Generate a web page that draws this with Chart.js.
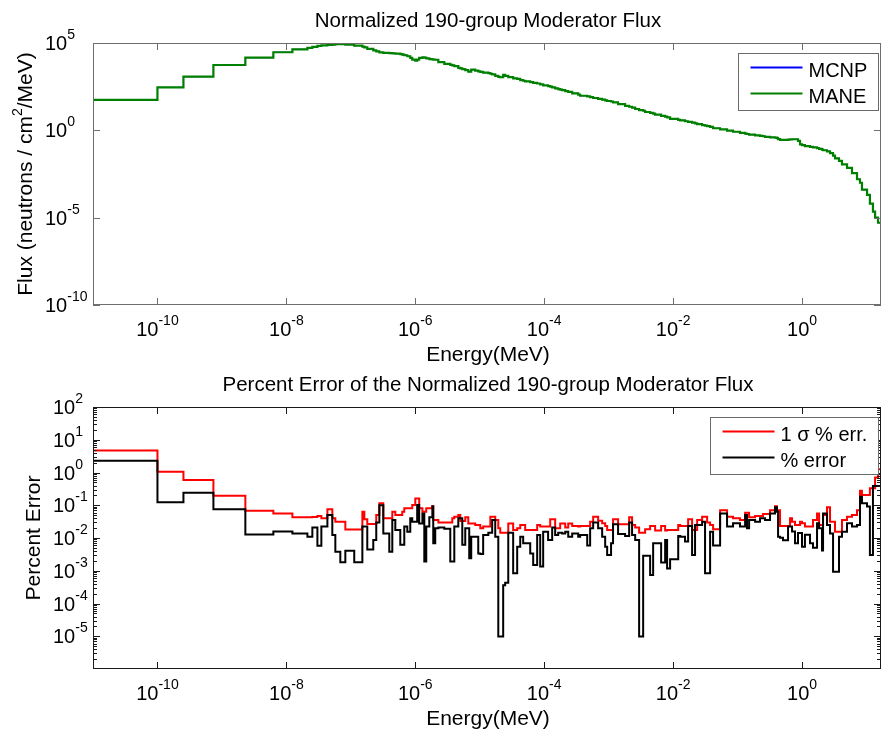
<!DOCTYPE html>
<html>
<head>
<meta charset="utf-8">
<title>190-group Moderator Flux</title>
<script src="https://cdn.jsdelivr.net/npm/chart.js@4.4.0/dist/chart.umd.min.js"></script>
<style>
  html, body { margin: 0; padding: 0; background: #fff; }
  #wrap { position: relative; width: 881px; height: 734px; }
  #wrap canvas { position: absolute; left: 0; top: 0; }
</style>
</head>
<body>
<div id="wrap">
  <canvas id="fluxChart" width="881" height="734"></canvas>
  <canvas id="errChart" width="881" height="734"></canvas>
</div>
<script>
// * group boundaries (MeV), lowest edge first
const energyEdges = [
  1e-11, 1e-10, 2.53e-10, 7.38e-10, 2.31e-9, 6.28e-9, 1.24e-8, 2.12e-8, 2.53e-8, 3.03e-8,
  3.49e-8, 4.33e-8, 5.16e-8, 5.75e-8, 6.87e-8, 8.22e-8, 1.13e-7, 1.51e-7, 1.62e-7, 1.80e-7,
  2.23e-7, 2.48e-7, 2.77e-7, 3.19e-7, 3.95e-7, 4.40e-7, 4.90e-7, 5.85e-7, 6.28e-7, 6.75e-7,
  7.52e-7, 8.36e-7, 8.97e-7, 1.00e-6, 1.07e-6, 1.15e-6, 1.29e-6, 1.38e-6, 1.48e-6, 1.65e-6,
  1.84e-6, 1.90e-6, 2.04e-6, 2.28e-6, 2.82e-6, 3.49e-6, 3.75e-6, 4.03e-6, 4.65e-6, 4.99e-6,
  5.36e-6, 5.96e-6, 6.64e-6, 6.87e-6, 7.38e-6, 8.51e-6, 9.48e-6, 1.02e-5, 1.13e-5, 1.36e-5,
  1.46e-5, 1.56e-5, 1.74e-5, 1.94e-5, 2.08e-5, 2.31e-5, 2.48e-5, 2.77e-5, 3.30e-5, 3.81e-5,
  4.25e-5, 4.72e-5, 5.07e-5, 6.07e-5, 6.75e-5, 7.78e-5, 8.67e-5, 9.64e-5, 1.15e-4, 1.24e-4,
  1.33e-4, 1.48e-4, 1.65e-4, 1.77e-4, 1.90e-4, 2.12e-4, 2.36e-4, 2.72e-4, 3.37e-4, 3.61e-4,
  4.65e-4, 5.16e-4, 5.75e-4, 6.87e-4, 7.93e-4, 8.83e-4, 9.48e-4, 1.09e-3, 1.17e-3, 1.40e-3,
  1.80e-3, 2.08e-3, 2.31e-3, 2.58e-3, 2.97e-3, 3.43e-3, 3.68e-3, 4.40e-3, 4.90e-3, 5.26e-3,
  6.52e-3, 7.52e-3, 8.07e-3, 8.98e-3, 1.20e-2, 1.29e-2, 1.53e-2, 1.71e-2, 1.97e-2, 2.19e-2,
  2.36e-2, 2.82e-2, 3.13e-2, 3.37e-2, 3.75e-2, 4.17e-2, 5.36e-2, 6.87e-2, 8.51e-2, 1.09e-1,
  1.31e-1, 1.40e-1, 1.51e-1, 1.87e-1, 2.23e-1, 2.48e-1, 2.67e-1, 3.19e-1, 3.81e-1, 4.09e-1,
  4.25e-1, 4.56e-1, 5.07e-1, 6.07e-1, 6.52e-1, 7.00e-1, 7.78e-1, 8.67e-1, 9.31e-1, 1.00,
  1.11, 1.33, 1.48, 1.71, 1.84, 2.04, 2.12, 2.44, 2.72, 3.03,
  3.25, 3.75, 4.17, 4.99, 5.96, 7.13, 7.93, 8.51, 10.2, 11.3,
  12.6, 13.6, 15.1, 16.8
];

// * normalized group flux (neutrons / cm^2 / MeV), one value per group
const maneFlux = [
  55, 288, 1175, 5495, 14450, 29510, 43650, 52480, 60260, 67610,
  72440, 77620, 81280, 85110, 85110, 81280, 70790, 61660, 56230, 45710,
  38020, 33110, 28840, 26920, 26300, 25700, 24550, 22910, 21380, 19950,
  17380, 14130, 11220, 9772, 11220, 14130, 15140, 14450, 13180, 12020,
  11480, 11220, 10960, 7943, 6310, 5623, 5248, 4786, 3802, 3548,
  3162, 2818, 2291, 2291, 2951, 2630, 2399, 2239, 1995, 1862,
  1738, 1585, 1318, 1148, 1096, 1479, 1318, 1122, 955, 891,
  759, 692, 631, 575, 525, 479, 427, 372, 339, 316,
  288, 251, 229, 214, 200, 178, 158, 132, 110, 95.5,
  87.1, 79.4, 70.8, 63.1, 57.5, 52.5, 47.9, 44.7, 39.8, 31.6,
  25.1, 22.4, 20.0, 16.6, 14.5, 13.2, 11.2, 10.0, 9.12, 7.94,
  6.76, 6.03, 5.50, 4.57, 3.98, 3.72, 3.31, 3.02, 2.75, 2.51,
  2.24, 2.00, 1.86, 1.74, 1.58, 1.32, 1.12, 0.955, 0.832, 0.724,
  0.646, 0.617, 0.562, 0.513, 0.479, 0.457, 0.427, 0.398, 0.380, 0.355,
  0.316, 0.282, 0.288, 0.295, 0.302, 0.309, 0.309, 0.251, 0.158, 0.141,
  0.126, 0.112, 0.105, 0.0955, 0.0871, 0.0794, 0.0724, 0.0631, 0.0501, 0.0355,
  0.0251, 0.0178, 0.0112, 0.00708, 0.00355, 0.00158, 0.00100, 3.98e-4, 2.00e-4, 6.31e-5,
  2.19e-5, 1.00e-5, 5.13e-6
];
// the MCNP curve lies under the MANE curve everywhere in the picture
const mcnpFlux = maneFlux.slice();

// * percent errors per group
const sigmaErr = [
  4.68, 1.05, 0.589, 0.195, 0.0676, 0.0562, 0.0427, 0.0427, 0.0437, 0.0468,
  0.0398, 0.0759, 0.0398, 0.0316, 0.0316, 0.0182, 0.0182, 0.0631, 0.0372, 0.0269,
  0.0269, 0.0501, 0.115, 0.0398, 0.0398, 0.0631, 0.0501, 0.0501, 0.0631, 0.0813,
  0.0813, 0.0813, 0.102, 0.162, 0.162, 0.0813, 0.0631, 0.0631, 0.0813, 0.0813,
  0.0955, 0.0355, 0.0355, 0.0295, 0.0295, 0.0295, 0.0398, 0.0447, 0.0501, 0.0331,
  0.0331, 0.0427, 0.0275, 0.0275, 0.0275, 0.0251, 0.0251, 0.0200, 0.0224, 0.0224,
  0.0447, 0.0447, 0.0355, 0.0200, 0.0145, 0.0145, 0.0145, 0.0275, 0.0174, 0.0200,
  0.0251, 0.0251, 0.0174, 0.0174, 0.0174, 0.0251, 0.0224, 0.0224, 0.0224, 0.0372,
  0.0372, 0.0200, 0.0200, 0.0275, 0.0275, 0.0209, 0.0275, 0.0234, 0.0224, 0.0234,
  0.0234, 0.0316, 0.0447, 0.0339, 0.0282, 0.0234, 0.0174, 0.0174, 0.0372, 0.0263,
  0.0263, 0.0427, 0.0251, 0.0209, 0.0145, 0.0145, 0.0186, 0.0234, 0.0234, 0.0170,
  0.0234, 0.0170, 0.0174, 0.0174, 0.0251, 0.0234, 0.0234, 0.0372, 0.0174, 0.0174,
  0.0355, 0.0447, 0.0447, 0.0295, 0.0251, 0.0186, 0.0708, 0.0447, 0.0398, 0.0355,
  0.0589, 0.0589, 0.0427, 0.0468, 0.0468, 0.0537, 0.0537, 0.0708, 0.0933, 0.0708,
  0.0708, 0.0234, 0.0234, 0.0234, 0.0398, 0.0316, 0.0251, 0.0251, 0.0316, 0.0282,
  0.0224, 0.0224, 0.0355, 0.0562, 0.0251, 0.0251, 0.0501, 0.0871, 0.0316, 0.0316,
  0.0155, 0.0155, 0.0355, 0.0447, 0.0501, 0.0708, 0.275, 0.204, 0.204, 0.331,
  0.331, 0.708, 1.26
];
const pctErr = [
  2.29, 0.123, 0.240, 0.0759, 0.0129, 0.0158, 0.0138, 0.0110, 0.0209, 0.00575,
  0.0224, 0.0501, 0.0123, 0.0038, 0.00182, 0.00407, 0.00182, 0.0224, 0.0224, 0.00447,
  0.00871, 0.0295, 0.100, 0.0138, 0.0038, 0.0355, 0.0174, 0.00617, 0.00617, 0.0224,
  0.0155, 0.0398, 0.0316, 0.0316, 0.102, 0.0275, 0.0562, 0.00191, 0.0224, 0.0427,
  0.0912, 0.00692, 0.0200, 0.0209, 0.0191, 0.00191, 0.00191, 0.0224, 0.0398, 0.0398,
  0.00617, 0.0200, 0.0200, 0.0024, 0.0110, 0.0110, 0.00339, 0.00324, 0.0123, 0.0145,
  0.0145, 0.0355, 0.0110, 9.77e-6, 9.77e-6, 3.63e-4, 4.27e-4, 0.0145, 8.32e-4, 0.00537,
  0.0110, 0.00692, 0.00692, 0.00339, 0.00151, 0.0123, 0.00135, 0.0155, 0.00871, 0.00871,
  0.0209, 0.0123, 0.0145, 0.0145, 0.0138, 0.0155, 0.0110, 0.0138, 0.0110, 0.0123,
  0.00589, 0.0200, 0.0295, 0.0200, 0.0110, 0.00537, 0.00302, 0.00692, 0.0263, 0.0132,
  0.0115, 0.0295, 0.0123, 0.00871, 9.77e-6, 0.00288, 0.00288, 7.41e-4, 0.00692, 0.00692,
  0.00178, 0.00871, 0.00117, 0.00224, 0.0115, 0.0110, 0.00776, 0.0234, 0.00302, 0.0251,
  0.0251, 0.0316, 8.32e-4, 8.32e-4, 0.0155, 0.00589, 0.0562, 0.0224, 0.0282, 0.0224,
  0.0501, 0.0200, 0.0355, 0.0316, 0.0398, 0.0398, 0.0355, 0.0562, 0.0871, 0.0631,
  0.0110, 0.0102, 0.00851, 0.0224, 0.0224, 0.0158, 0.00692, 0.0141, 0.0141, 0.00537,
  0.0126, 0.00692, 0.00501, 0.0282, 0.0200, 0.00417, 0.0562, 0.0251, 0.0138, 9.33e-4,
  9.33e-4, 0.0110, 0.0155, 0.0282, 0.0224, 0.0251, 0.182, 0.115, 0.0912, 0.00302,
  0.389, 0.389, 0.389
];

// * tick marks / labels
const energyTicks = [1e-10, 1e-8, 1e-6, 1e-4, 1e-2, 1];
const fluxTicks = [1e-10, 1e-5, 1, 1e5];
const errTicks = [1e-5, 1e-4, 1e-3, 1e-2, 1e-1, 1, 1e1, 1e2];

const FONT = '"Liberation Sans", Arial, Helvetica, sans-serif';

// stairs: each group value is held from its lower edge to its upper edge
function stairs(vals) {
  const pts = vals.map((v, i) => ({ x: energyEdges[i], y: v }));
  pts.push({ x: energyEdges[vals.length], y: vals[vals.length - 1] });
  return pts;
}

// "10" with a raised exponent
function drawPow(ctx, v, x, y, align) {
  const exp = String(Math.round(Math.log10(v)));
  ctx.font = "20px " + FONT;
  const wb = ctx.measureText("10").width;
  ctx.font = "14px " + FONT;
  const we = ctx.measureText(exp).width;
  const x0 = align === "center" ? x - (wb + we) / 2 : x;
  ctx.font = "20px " + FONT;
  ctx.fillText("10", x0, y);
  ctx.font = "14px " + FONT;
  ctx.fillText(exp, x0 + wb, y - 11);
}

// * MATLAB-look axes: box, inward ticks, labels, titles, legend
const matlabAxes = {
  id: "matlabAxes",
  afterDraw(chart, args, o) {
    const ctx = chart.ctx;
    const a = chart.chartArea;
    const sx = chart.scales.x, sy = chart.scales.y;
    ctx.save();
    ctx.textBaseline = "alphabetic";
    ctx.textAlign = "left";

    // box + ticks
    ctx.strokeStyle = o.boxColor;
    ctx.lineWidth = 1;
    ctx.strokeRect(a.left + 0.5, a.top + 0.5, a.right - a.left - 1, a.bottom - a.top - 1);
    ctx.beginPath();
    o.xTicks.forEach((v) => {
      const px = Math.round(sx.getPixelForValue(v)) + 0.5;
      ctx.moveTo(px, a.bottom); ctx.lineTo(px, a.bottom - 7);
      ctx.moveTo(px, a.top); ctx.lineTo(px, a.top + 7);
    });
    o.yTicks.forEach((v) => {
      const py = Math.round(sy.getPixelForValue(v)) + 0.5;
      ctx.moveTo(a.left, py); ctx.lineTo(a.left + 7, py);
      ctx.moveTo(a.right, py); ctx.lineTo(a.right - 7, py);
    });
    if (o.yMinor) {
      for (let d = Math.round(Math.log10(sy.min)); d < Math.round(Math.log10(sy.max)); d++) {
        for (let m = 2; m <= 9; m++) {
          const py = Math.round(sy.getPixelForValue(m * Math.pow(10, d))) + 0.5;
          ctx.moveTo(a.left, py); ctx.lineTo(a.left + 4, py);
          ctx.moveTo(a.right, py); ctx.lineTo(a.right - 4, py);
        }
      }
    }
    ctx.stroke();

    // tick labels
    ctx.fillStyle = "#000";
    o.xTicks.forEach((v) => drawPow(ctx, v, sx.getPixelForValue(v), a.bottom + 31, "center"));
    o.yLabels.forEach((v) => drawPow(ctx, v, o.yLabelX, sy.getPixelForValue(v) + 7, "left"));

    // titles
    const cx = (a.left + a.right) / 2 + 1;
    ctx.textAlign = "center";
    ctx.font = "20.5px " + FONT;
    ctx.fillText(o.title, cx, a.top - 16);
    ctx.font = "21px " + FONT;
    ctx.fillText(o.xTitle, cx, a.bottom + 56);

    // rotated y title (parts: text, superscript, text)
    ctx.save();
    ctx.translate(o.yTitleX, (a.top + a.bottom) / 2);
    ctx.rotate(-Math.PI / 2);
    ctx.textAlign = "left";
    const parts = o.yTitle;
    const sizes = parts.map((p, i) => (i % 2 ? 14 : 21));
    const widths = parts.map((p, i) => { ctx.font = sizes[i] + "px " + FONT; return ctx.measureText(p).width; });
    let ux = -widths.reduce((s, w) => s + w, 0) / 2;
    parts.forEach((p, i) => {
      ctx.font = sizes[i] + "px " + FONT;
      ctx.fillText(p, ux, i % 2 ? -10 : 0);
      ux += widths[i];
    });
    ctx.restore();

    // legend in the top-right corner
    ctx.textAlign = "left";
    ctx.font = "20px " + FONT;
    const items = chart.data.datasets;
    const tw = Math.max(...items.map((d) => ctx.measureText(d.label).width));
    const w = Math.round(70 + tw + 11), h = 57;
    const bx = Math.round(a.right - 3 - w) + 0.5, by = a.top + 10.5;
    ctx.fillStyle = "#fff";
    ctx.fillRect(bx, by, w, h);
    ctx.strokeStyle = "#6a6a6a";
    ctx.lineWidth = 1;
    ctx.strokeRect(bx, by, w, h);
    items.forEach((d, i) => {
      const ly = by + 14 + i * 26;
      ctx.strokeStyle = d.borderColor;
      ctx.lineWidth = 2;
      ctx.beginPath();
      ctx.moveTo(bx + 12, ly); ctx.lineTo(bx + 64, ly);
      ctx.stroke();
      ctx.fillStyle = "#000";
      ctx.fillText(d.label, bx + 70, ly + 9);
    });
    ctx.restore();
  },
};

const lineStyle = { borderWidth: 2, pointRadius: 0, stepped: true, fill: false, tension: 0 };

// * upper plot
new Chart("fluxChart", {
  type: "line",
  data: {
    datasets: [
      { label: "MCNP", data: stairs(mcnpFlux), borderColor: "#0000ff", order: 1, ...lineStyle, borderWidth: 1 },
      { label: "MANE", data: stairs(maneFlux), borderColor: "#008000", order: 0, ...lineStyle, borderWidth: 2.2 },
    ],
  },
  plugins: [matlabAxes],
  options: {
    responsive: false,
    animation: false,
    layout: { padding: { left: 93, right: 0, top: 43, bottom: 429 } },
    scales: {
      x: { type: "logarithmic", display: false, min: 1e-11, max: 16.8 },
      y: { type: "logarithmic", display: false, min: 1e-10, max: 1e5 },
    },
    plugins: {
      legend: { display: false },
      tooltip: { enabled: false },
      matlabAxes: {
        boxColor: "#6e6e6e",
        xTicks: energyTicks,
        yTicks: fluxTicks,
        yLabels: fluxTicks,
        yLabelX: 45,
        title: "Normalized 190-group Moderator Flux",
        xTitle: "Energy(MeV)",
        yTitle: ["Flux (neutrons / cm", "2", "/MeV)"],
        yTitleX: 32,
      },
    },
  },
});

// * lower plot
new Chart("errChart", {
  type: "line",
  data: {
    datasets: [
      { label: "1 σ % err.", data: stairs(sigmaErr), borderColor: "#ff0000", order: 1, ...lineStyle },
      { label: "% error", data: stairs(pctErr), borderColor: "#000000", order: 0, ...lineStyle },
    ],
  },
  plugins: [matlabAxes],
  options: {
    responsive: false,
    animation: false,
    layout: { padding: { left: 93, right: 0, top: 407, bottom: 65 } },
    scales: {
      x: { type: "logarithmic", display: false, min: 1e-11, max: 16.8 },
      y: { type: "logarithmic", display: false, min: 1e-6, max: 1e2 },
    },
    plugins: {
      legend: { display: false },
      tooltip: { enabled: false },
      matlabAxes: {
        boxColor: "#1a1a1a",
        xTicks: energyTicks,
        yTicks: errTicks,
        yMinor: true,
        yLabels: errTicks,
        yLabelX: 53,
        title: "Percent Error of the Normalized 190-group Moderator Flux",
        xTitle: "Energy(MeV)",
        yTitle: ["Percent Error"],
        yTitleX: 40,
      },
    },
  },
});
</script>
</body>
</html>
